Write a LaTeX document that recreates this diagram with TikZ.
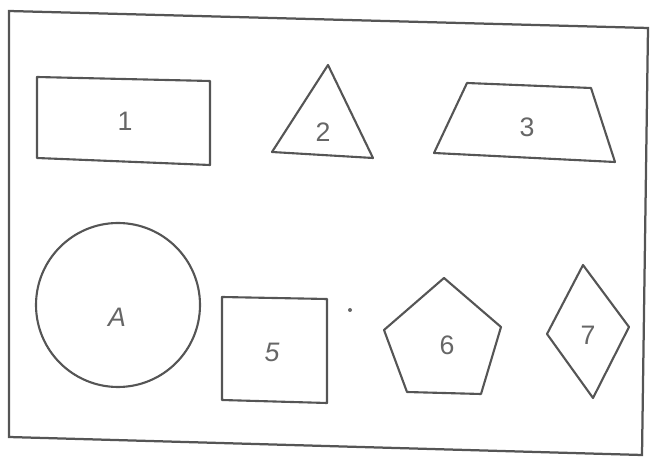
\documentclass[tikz,border=0pt]{standalone}
\usepackage{fontspec}
\setmainfont{Liberation Sans}
\usepackage{xcolor}
\definecolor{pencil}{HTML}{555555}
\definecolor{lead}{HTML}{666666}
\usepackage{tikz}
\usetikzlibrary{positioning,calc}
\tikzset{
  outline/.style={draw=pencil,line width=1.5pt,line join=round},
  frame/.style  ={draw=pencil,line width=1.6pt},
  lbl/.style    ={font=\fontsize{19}{22}\selectfont,text=lead,inner sep=1pt},
}

\begin{document}
\begin{tikzpicture}[x=0.025cm,y=-0.025cm]
\useasboundingbox (0,0) rectangle (650,457);
% sheet
\draw[frame] (9,11) -- (648,28) -- (642,455) -- (9,437) -- cycle;
% top row
\draw[outline] (37,77) -- (210,81) -- (210,165) -- (37,158) -- cycle;
\node[lbl] (one) at (125,121) {1};
\draw[outline] (328,65) -- (373,158) -- (272,152) -- cycle;
\node[lbl] (two) at (323,132) {2};
\draw[outline] (467,83) -- (591,88) -- (615,162) -- (434,153) -- cycle;
\node[lbl] (three) at (527,127) {3};
% bottom row
\draw[outline] (118,305) circle [radius=82];
\node[lbl,font=\fontsize{19}{22}\selectfont\itshape] (four) at (117,317) {A};
\draw[outline] (222,297) -- (327,299) -- (327,403) -- (222,400) -- cycle;
\node[lbl,font=\fontsize{19}{22}\selectfont\itshape] (five) at (272,352) {5};
\fill[lead] (350,310) circle [radius=2];
\draw[outline] (444,278) -- (501,327) -- (481,394) -- (407,392) -- (384,330) -- cycle;
\node[lbl] (six) at (447,345) {6};
\draw[outline] (583,265) -- (629,327) -- (593,398) -- (547,334) -- cycle;
\node[lbl] (seven) at (588,335) {7};
\end{tikzpicture}
\end{document}
